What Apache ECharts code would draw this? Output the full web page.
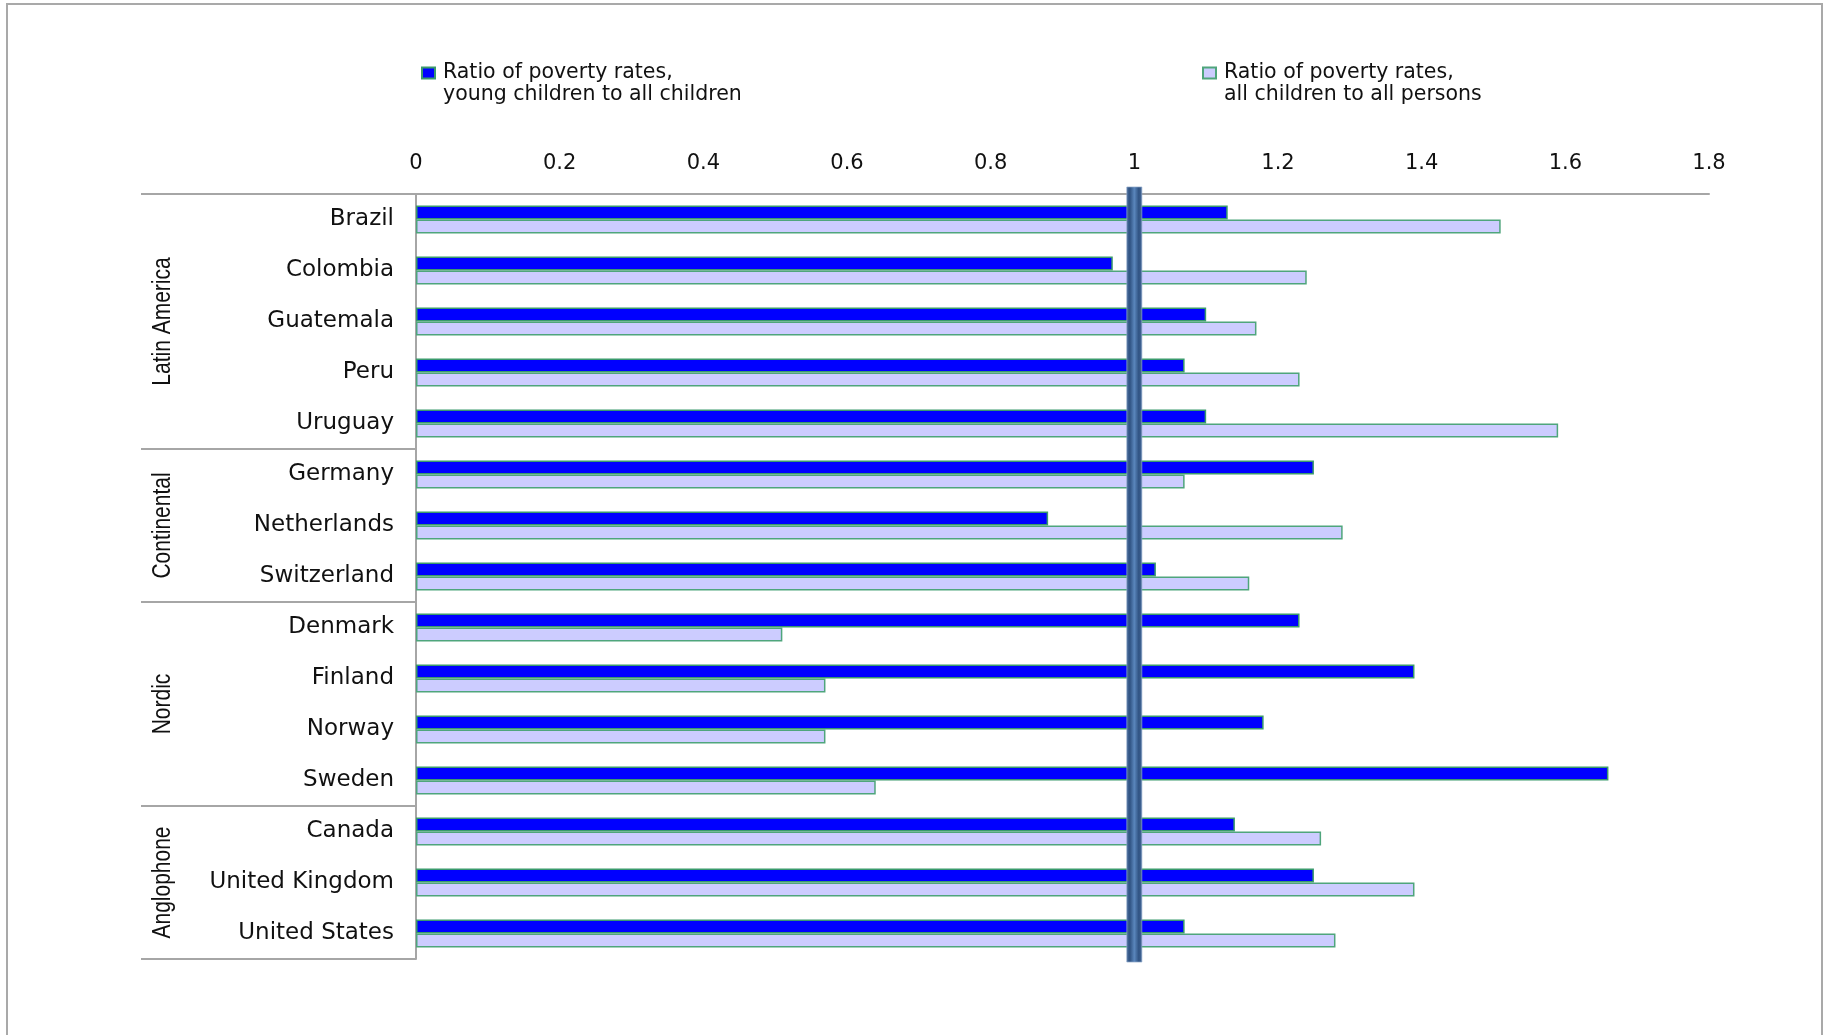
<!DOCTYPE html>
<html>
<head>
<meta charset="utf-8">
<script src="https://cdn.jsdelivr.net/npm/echarts@6/dist/echarts.min.js"></script>
<style>
  html, body { margin: 0; padding: 0; background: #ffffff; }
  #chart { width: 1830px; height: 1035px; }
</style>
</head>
<body>
<div id="chart"></div>
<script>
// Countries, top to bottom, grouped by welfare regime
const countries = ['Brazil', 'Colombia', 'Guatemala', 'Peru', 'Uruguay',
  'Germany', 'Netherlands', 'Switzerland',
  'Denmark', 'Finland', 'Norway', 'Sweden',
  'Canada', 'United Kingdom', 'United States'];

// Ratio of poverty rates, young children to all children
const youngToAllChildren = [1.13, 0.97, 1.10, 1.07, 1.10,
  1.25, 0.88, 1.03,
  1.23, 1.39, 1.18, 1.66,
  1.14, 1.25, 1.07];

// Ratio of poverty rates, all children to all persons
const childrenToAllPersons = [1.51, 1.24, 1.17, 1.23, 1.59,
  1.07, 1.29, 1.16,
  0.51, 0.57, 0.57, 0.64,
  1.26, 1.39, 1.28];

const regionNames = ['Latin America', 'Continental', 'Nordic', 'Anglophone'];
const regionSizes = [5, 3, 4, 3];

const axisMin = 0;
const axisMax = 1.8;
const axisStep = 0.2;
const parityValue = 1;

const seriesNames = [
  'Ratio of poverty rates,\nyoung children to all children',
  'Ratio of poverty rates,\nall children to all persons'
];

const FONT = '"DejaVu Sans", "Liberation Sans", Arial, sans-serif';
const GRID = { left: 416, top: 194, right: 121, bottom: 76 };
const LINE_GRAY = '#a6a6a6';

// a blank leading line keeps the swatch level with the first line of the label
const legendBase = {
  orient: 'horizontal',
  padding: 0,
  top: 40,
  itemWidth: 13,
  itemHeight: 11,
  icon: 'rect',
  selectedMode: false,
  formatter: name => '\n' + name,
  textStyle: {
    fontFamily: FONT, fontSize: 20.5, lineHeight: 22, color: '#111111',
    padding: [0, 0, 0, 3]
  }
};

const option = {
  animation: false,
  backgroundColor: '#ffffff',
  grid: { left: GRID.left, top: GRID.top, right: GRID.right, bottom: GRID.bottom, containLabel: false },
  legend: [
    Object.assign({}, legendBase, { left: 421, data: [seriesNames[0]] }),
    Object.assign({}, legendBase, { left: 1202, data: [seriesNames[1]] })
  ],
  xAxis: {
    type: 'value',
    position: 'top',
    min: axisMin,
    max: axisMax,
    interval: axisStep,
    axisLine: { show: true, lineStyle: { color: LINE_GRAY, width: 2 } },
    axisTick: { show: false },
    splitLine: { show: false },
    axisLabel: {
      margin: 20,
      fontFamily: FONT,
      fontSize: 21,
      color: '#111111'
    }
  },
  yAxis: {
    type: 'category',
    inverse: true,
    data: countries,
    axisLine: { show: true, lineStyle: { color: LINE_GRAY, width: 2 } },
    axisTick: { show: false },
    splitLine: { show: false },
    axisLabel: {
      margin: 22,
      fontFamily: FONT,
      fontSize: 23,
      color: '#111111'
    }
  },
  series: [
    {
      name: seriesNames[0],
      type: 'bar',
      data: youngToAllChildren,
      barWidth: 14,
      barGap: '0%',
      z: 2,
      itemStyle: { color: '#0000ff', borderColor: '#3a9a6c', borderWidth: 1.5 }
    },
    {
      name: seriesNames[1],
      type: 'bar',
      data: childrenToAllPersons,
      barWidth: 14,
      barGap: '0%',
      z: 2,
      itemStyle: { color: '#ccccff', borderColor: '#4fa57c', borderWidth: 1.5 }
    }
  ]
};

const chart = echarts.init(document.getElementById('chart'));
chart.setOption(option);

// Region brackets, region names, the parity marker and the frame
function decorations() {
  const yAt = i => chart.convertToPixel({ yAxisIndex: 0 }, i);
  const band = yAt(1) - yAt(0);
  const gridTop = GRID.top;
  const gridBottom = 1035 - GRID.bottom;
  const bracketLeft = 141;
  const elements = [];

  // outer frame
  elements.push({
    type: 'rect', z: 0, silent: true,
    shape: { x: 7, y: 4, width: 1815, height: 1060 },
    style: { fill: 'none', stroke: '#a9a9a9', lineWidth: 2 }
  });

  // top rule continues left under the region column
  elements.push({
    type: 'line', silent: true, z: 1,
    shape: { x1: bracketLeft, y1: gridTop, x2: GRID.left, y2: gridTop },
    style: { stroke: LINE_GRAY, lineWidth: 2 }
  });

  let start = 0;
  regionNames.forEach((name, k) => {
    const end = start + regionSizes[k] - 1;
    const yStart = yAt(start) - band / 2;
    const yEnd = yAt(end) + band / 2;
    elements.push({
      type: 'line', silent: true, z: 1,
      shape: { x1: bracketLeft, y1: yEnd, x2: GRID.left, y2: yEnd },
      style: { stroke: LINE_GRAY, lineWidth: 2 }
    });
    elements.push({
      type: 'text', silent: true, z: 3,
      x: 163, y: (yStart + yEnd) / 2,
      rotation: Math.PI / 2,
      scaleY: 1.25,
      style: {
        text: name,
        fontFamily: '"Liberation Sans", Arial, sans-serif',
        fontSize: 21,
        fill: '#111111',
        align: 'center',
        verticalAlign: 'middle'
      }
    });
    start += regionSizes[k];
  });

  // parity marker at ratio = 1
  const px = chart.convertToPixel({ xAxisIndex: 0 }, parityValue);
  elements.push({
    type: 'rect', silent: true, z: 20,
    shape: { x: px - 7.5, y: gridTop - 7, width: 15, height: gridBottom - gridTop + 10 },
    style: {
      fill: new echarts.graphic.LinearGradient(0, 0, 1, 0, [
        { offset: 0, color: '#4a6d9c' },
        { offset: 0.22, color: '#2f5282' },
        { offset: 0.5, color: '#5a86bc' },
        { offset: 0.78, color: '#2f5282' },
        { offset: 1, color: '#4a6d9c' }
      ]),
      stroke: 'rgba(140,165,200,0.7)',
      lineWidth: 1
    }
  });

  chart.setOption({ graphic: { elements: elements } });
}
decorations();
</script>
</body>
</html>
